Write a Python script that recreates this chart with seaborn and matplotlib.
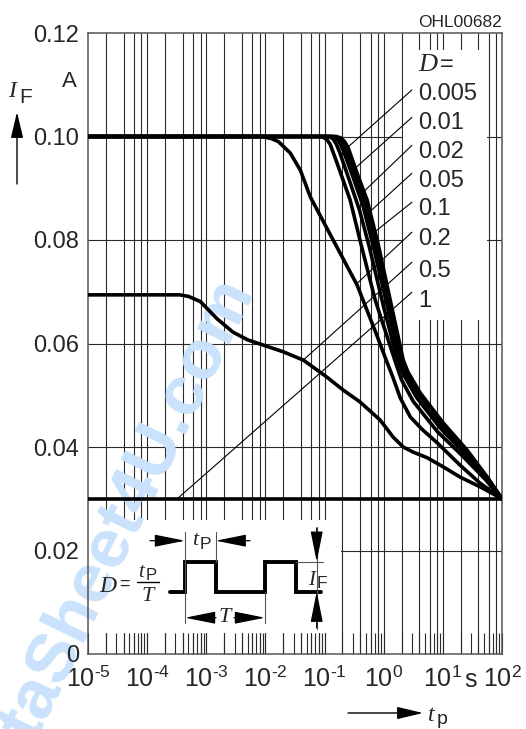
import numpy as np
import pandas as pd
import matplotlib
matplotlib.use("Agg")
import matplotlib.pyplot as plt
import matplotlib.ticker as mticker
from matplotlib.patches import Rectangle, FancyArrowPatch
import seaborn as sns

# permissible pulse current I_F vs pulse duration t_p, per duty cycle D
# (t_p stored as log10 of seconds, I_F in A)
D_labels = ["0.005", "0.01", "0.02", "0.05", "0.1", "0.2", "0.5", "1"]

logt_0005 = [-5.0, -0.80, -0.72, -0.66, -0.60, -0.45, -0.28, -0.09, 0.11, 0.33, 0.41, 0.62, 1.01, 1.41, 1.75, 2.0]
IF_0005 = [0.1000, 0.1000, 0.0997, 0.0990, 0.0978, 0.0929, 0.0877, 0.0790, 0.0684, 0.0568, 0.0545, 0.0504, 0.0446, 0.0394, 0.0342, 0.0300]
logt_001 = [-5.0, -0.84, -0.76, -0.70, -0.64, -0.48, -0.31, -0.12, 0.09, 0.31, 0.40, 0.61, 1.00, 1.40, 1.75, 2.0]
IF_001 = [0.1000, 0.1000, 0.0997, 0.0988, 0.0974, 0.0925, 0.0872, 0.0785, 0.0680, 0.0565, 0.0543, 0.0502, 0.0444, 0.0392, 0.0341, 0.0300]
logt_002 = [-5.0, -0.88, -0.80, -0.74, -0.68, -0.52, -0.35, -0.16, 0.06, 0.29, 0.39, 0.60, 0.99, 1.39, 1.74, 2.0]
IF_002 = [0.1000, 0.1000, 0.0997, 0.0987, 0.0972, 0.0922, 0.0866, 0.0780, 0.0672, 0.0562, 0.0540, 0.0500, 0.0441, 0.0390, 0.0340, 0.0300]
logt_005 = [-5.0, -0.94, -0.86, -0.80, -0.74, -0.58, -0.41, -0.24, 0.00, 0.25, 0.36, 0.56, 0.96, 1.37, 1.73, 2.0]
IF_005 = [0.1000, 0.1000, 0.0996, 0.0985, 0.0968, 0.0915, 0.0858, 0.0785, 0.0670, 0.0560, 0.0535, 0.0495, 0.0436, 0.0387, 0.0339, 0.0300]
logt_01 = [-5.0, -1.05, -0.97, -0.905, -0.79, -0.567, -0.38, -0.144, 0.21, 0.30, 0.50, 0.905, 1.33, 1.72, 2.0]
IF_01 = [0.1000, 0.1000, 0.0995, 0.0985, 0.0949, 0.0877, 0.0790, 0.0684, 0.0560, 0.0530, 0.0488, 0.0430, 0.0383, 0.0337, 0.0300]
logt_02 = [-5.0, -2.05, -1.90, -1.78, -1.58, -1.41, -1.24, -0.855, -0.45, -0.11, 0.025, 0.161, 0.279, 0.45, 0.65, 0.905, 1.29, 1.63, 2.0]
IF_02 = [0.1000, 0.1000, 0.0996, 0.0990, 0.0968, 0.0935, 0.0883, 0.0800, 0.0713, 0.0614, 0.0573, 0.0533, 0.0495, 0.0458, 0.0434, 0.0408, 0.0365, 0.0330, 0.0300]
logt_05 = [-5.0, -3.45, -3.30, -3.10, -2.82, -2.55, -2.30, -2.09, -1.70, -1.36, -0.96, -0.685, -0.40, -0.06, 0.16, 0.33, 0.50, 0.74, 1.00, 1.29, 1.63, 2.0]
IF_05 = [0.0694, 0.0694, 0.0691, 0.0681, 0.0648, 0.0622, 0.0607, 0.0599, 0.0584, 0.0568, 0.0535, 0.0510, 0.0487, 0.0452, 0.0419, 0.0400, 0.0390, 0.0379, 0.0362, 0.0342, 0.0323, 0.0300]
logt_1 = [-5.0, 2.0]
IF_1 = [0.0300, 0.0300]

# leader lines from the D labels to the curves
leader_I0 = [0.1090, 0.1037, 0.0983, 0.0929, 0.0873, 0.0815, 0.0757, 0.0699]
leader_logt1 = [-0.60, -0.48, -0.36, -0.26, -0.18, -0.48, -1.36, -3.49]
leader_I1 = [0.0980, 0.0939, 0.0891, 0.0852, 0.0813, 0.0713, 0.0568, 0.0300]
label_I = [0.1070, 0.1014, 0.0958, 0.0902, 0.0848, 0.0790, 0.0728, 0.0670]

curves = {
    "0.005": (logt_0005, IF_0005), "0.01": (logt_001, IF_001),
    "0.02": (logt_002, IF_002), "0.05": (logt_005, IF_005),
    "0.1": (logt_01, IF_01), "0.2": (logt_02, IF_02),
    "0.5": (logt_05, IF_05), "1": (logt_1, IF_1),
}
df = pd.concat([pd.DataFrame({"tp": 10.0 ** np.array(lt), "IF": iv, "D": d})
                for d, (lt, iv) in curves.items()], ignore_index=True)

sns.set_style("white")
plt.rcParams['font.family'] = ['Liberation Sans', 'DejaVu Sans']
plt.rcParams['mathtext.fontset'] = 'custom'
plt.rcParams['mathtext.rm'] = 'Liberation Sans'
plt.rcParams['mathtext.it'] = 'Liberation Serif:italic'
plt.rcParams['mathtext.sf'] = 'Liberation Sans'

W, H = 526, 729
def fpx(x, y):
    return x / W, 1 - y / H

serif_it = dict(family='Liberation Serif', style='italic')
gridc = '#2a2a2a'

fig = plt.figure(figsize=(W / 100, H / 100), dpi=100)
ax = fig.add_axes([88 / W, 1 - 654 / H, 414 / W, 621 / H])
ax.set_facecolor('none')

sns.lineplot(data=df, x="tp", y="IF", units="D", estimator=None, sort=False,
             color="black", lw=2.6, ax=ax, legend=False, zorder=3)
ax.set_xscale('log')
ax.set_xlim(1e-5, 1e2)
ax.set_ylim(0, 0.12)
ax.set_xlabel('')
ax.set_ylabel('')

# grid: 1, 2, 4, 6, 8 per decade, drawn by hand so the white boxes can cover it
vgrid = [m * 10.0 ** e for e in range(-5, 2) for m in (1, 2, 4, 6, 8)][1:]
ax.vlines(vgrid, 0, 0.12, colors=gridc, lw=0.8, zorder=1)
yt = np.arange(0, 0.121, 0.02)
ax.set_yticks(yt)
ax.hlines(yt[1:-1], 1e-5, 1e2, colors=gridc, lw=0.8, zorder=1)


def xfmt(v, p):
    e = int(round(np.log10(v)))
    if e < 0:
        return '$10^{\u2010%d}$' % -e
    return '$10^{%d}$' % e


ax.xaxis.set_major_locator(mticker.LogLocator(base=10, numticks=20))
ax.xaxis.set_minor_locator(mticker.LogLocator(base=10, subs=np.arange(2, 10), numticks=20))
ax.xaxis.set_minor_formatter(mticker.NullFormatter())
ax.xaxis.set_major_formatter(mticker.FuncFormatter(xfmt))
# the "0" label sits a little higher in the original, so it is placed by hand
ax.yaxis.set_major_formatter(mticker.FuncFormatter(lambda v, p: '' if v == 0 else '%.2f' % v))
ax.tick_params(axis='x', which='both', direction='in', length=15, width=0.8, color=gridc,
               labelsize=18, pad=8.5, bottom=True, top=False)
ax.tick_params(axis='y', length=0, labelsize=17, pad=6.5)
for s in ax.spines.values():
    s.set_color('#555555')
    s.set_linewidth(1.1)
fig.text(*fpx(79, 662), "0", fontsize=17, ha='right', va='baseline')

# white areas for the pulse sketch and the D labels
inset_box = Rectangle((1e-5, 0.0041), 0.19 - 1e-5, 0.0259 - 0.0041, facecolor='white',
                      edgecolor='none', zorder=1.2)
label_box = Rectangle((2.15, 0.0645), 56 - 2.15, 0.1167 - 0.0645, facecolor='white',
                      edgecolor='none', zorder=1.2)
ax.add_patch(inset_box)
ax.add_patch(label_box)

# watermark
wm = dict(rotation=64, rotation_mode='anchor', ha='right', va='baseline',
          fontsize=50, fontweight='bold', color='#cae2fb')
fig.text(*fpx(255, 292), "www.DataSheet4U.com", zorder=-1, **wm)
wm2 = ax.text(*fpx(255, 292), "www.DataSheet4U.com", transform=fig.transFigure, zorder=1.3, **wm)
wm2.set_clip_path(inset_box)

# D labels and leaders
ax.text(3.85, 0.1126, "D", fontsize=19, **serif_it)
ax.text(9.0, 0.1126, "=", fontsize=17)
for lab, yi, i0, lt1, i1 in zip(D_labels, label_I, leader_I0, leader_logt1, leader_I1):
    ax.text(3.85, yi, lab, fontsize=17, va='baseline', ha='left', zorder=4)
    ax.plot([3.0, 10 ** lt1], [i0, i1], color='black', lw=0.8, zorder=2.5)

# "s" unit among the x tick labels
fig.text(*fpx(471, 687), "s", fontsize=18, ha='center', va='baseline')

# axis captions
fig.text(*fpx(502, 27), "OHL00682", fontsize=12.5, ha='right', va='baseline')
fig.text(*fpx(8, 97), "I", fontsize=17, va='baseline', **serif_it)
fig.text(*fpx(19, 103), "F", fontsize=15, va='baseline')
fig.text(*fpx(62, 87), "A", fontsize=16, va='baseline')
arr = dict(arrowstyle='-|>,head_length=1.6,head_width=0.38', lw=1.0, color='black',
           shrinkA=0, shrinkB=0, mutation_scale=10)
fig.add_artist(FancyArrowPatch(fpx(17, 184), fpx(17, 112), transform=fig.transFigure, **arr))
fig.add_artist(FancyArrowPatch(fpx(348, 713), fpx(423, 713), transform=fig.transFigure, **arr))
fig.text(*fpx(428, 721), "t", fontsize=17, va='baseline', **serif_it)
fig.text(*fpx(437, 724), "p", fontsize=14, va='baseline')

# pulse sketch D = tp / T, drawn in its own pixel-unit axes
axp = fig.add_axes([88 / W, 1 - 633 / H, 254 / W, 113 / H])
axp.set_xlim(88, 342)
axp.set_ylim(633, 520)
axp.axis('off')
pulse_x = [170, 185, 185, 215.7, 215.7, 265, 265, 295.7, 295.7, 321]
pulse_y = [591.7, 591.7, 561.7, 561.7, 591.7, 591.7, 561.7, 561.7, 591.7, 591.7]
axp.plot(pulse_x, pulse_y, color='black', lw=2.8, solid_joinstyle='miter')
thin = dict(color='#555555', lw=0.8)
axp.plot([185, 185], [532, 623], **thin)
axp.plot([215.7, 215.7], [532, 561.7], **thin)
axp.plot([265, 265], [591.7, 623], **thin)
axp.plot([295.7, 323], [561.7, 561.7], **thin)
axp.plot([316.7, 316.7], [527, 629], **thin)
arr_s = dict(arrowstyle='-|>,head_length=1.9,head_width=0.38', lw=0.9, color='black',
             shrinkA=0, shrinkB=0, mutation_scale=10)
for tail, tip in [((150, 540.7), (185, 540.7)), ((250, 540.7), (215.7, 540.7)),
                  ((216, 617.7), (185, 617.7)), ((234, 617.7), (265, 617.7)),
                  ((316.7, 528), (316.7, 561.7)), ((316.7, 628), (316.7, 591.7))]:
    axp.annotate('', xy=tip, xytext=tail, arrowprops=arr_s)
axp.text(192, 545, "t", fontsize=16, va='baseline', **serif_it)
axp.text(199.5, 549, "P", fontsize=12.5, va='baseline')
axp.text(225, 622, "T", fontsize=16, ha='center', va='baseline', **serif_it,
         bbox=dict(facecolor='white', edgecolor='none', pad=0.5))
axp.text(308, 585, "I", fontsize=15, va='baseline', **serif_it)
axp.text(316.5, 588, "F", fontsize=12.5, va='baseline')
axp.text(99, 592, "D", fontsize=17, va='baseline', **serif_it)
axp.text(119, 589, "=", fontsize=13, va='baseline')
axp.text(138, 577, "t", fontsize=15, va='baseline', **serif_it)
axp.text(146, 580, "P", fontsize=12, va='baseline')
axp.plot([137, 159], [582, 582], color='black', lw=1.0)
axp.text(148, 601, "T", fontsize=16, ha='center', va='baseline', **serif_it)

fig.savefig("out.png", dpi=100)
